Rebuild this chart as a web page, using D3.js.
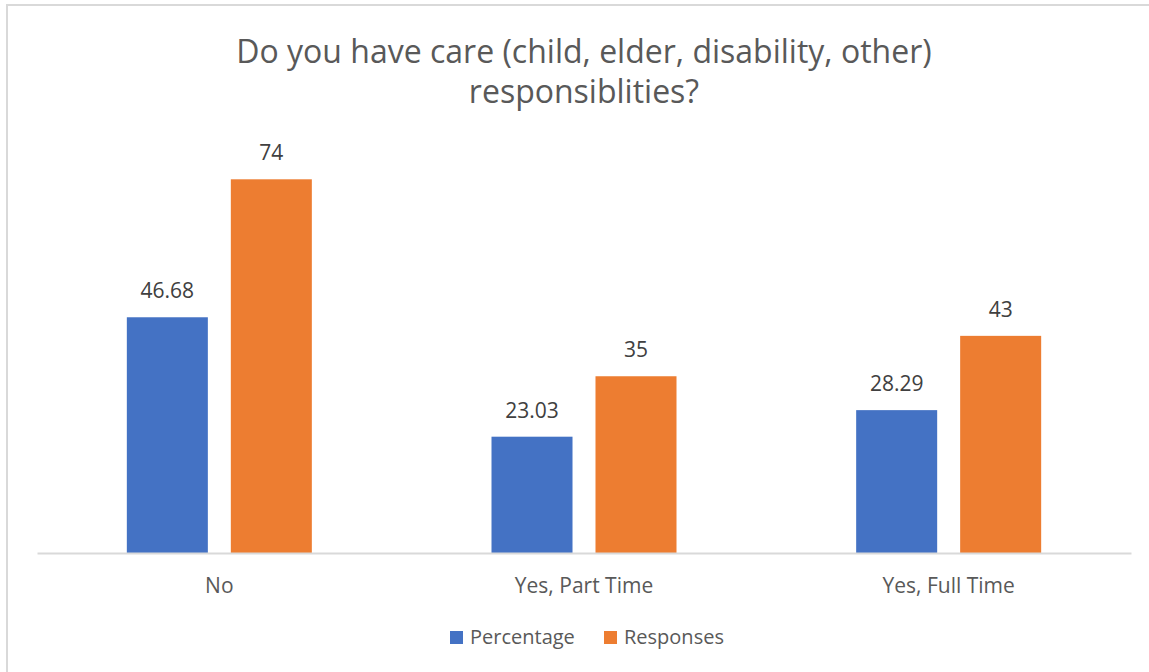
<!DOCTYPE html>
<html>
<head>
<meta charset="utf-8">
<script src="https://cdn.jsdelivr.net/npm/d3@7"></script>
<style>
  body { margin: 0; background: #fff; }
  text { font-family: "Open Sans", sans-serif; fill: #595959; }
</style>
</head>
<body>
<div id="chart"></div>
<script>
// values
var categories = ["No", "Yes, Part Time", "Yes, Full Time"];
var seriesNames = ["Percentage", "Responses"];
var percentage = [46.68, 23.03, 28.29];
var responses = [74, 35, 43];
var labels = [["46.68", "23.03", "28.29"], ["74", "35", "43"]];
var titleLines = ["Do you have care (child, elder, disability, other)", "responsiblities?"];
var colors = ["#4472C4", "#ED7D31"];

var width = 1149, height = 672;

var svg = d3.select("#chart").append("svg")
    .attr("width", width)
    .attr("height", height);

// chart border
svg.append("rect")
    .attr("x", 7).attr("y", 5)
    .attr("width", 1150).attr("height", 680)
    .attr("fill", "#fff")
    .attr("stroke", "#d9d9d9")
    .attr("stroke-width", 2);

var x0 = d3.scaleBand()
    .domain(categories)
    .range([37, 1131]);

var x1 = d3.scaleBand()
    .domain(seriesNames)
    .range([0, 185])
    .paddingInner(0.221);

var y = d3.scaleLinear()
    .domain([0, 80])
    .range([553, 149]);

var rows = categories.map(function (c, i) {
  return { cat: c, vals: [percentage[i], responses[i]] };
});

var groups = svg.selectAll(".grp")
    .data(rows)
    .enter().append("g")
    .attr("class", "grp")
    .attr("transform", function (d) {
      return "translate(" + (x0(d.cat) + x0.bandwidth() / 2 - 92.5) + ",0)";
    });

groups.selectAll("rect")
    .data(function (d, i) { return d.vals.map(function (v, k) { return { k: k, v: v, i: i }; }); })
    .enter().append("rect")
    .attr("x", function (d) { return x1(seriesNames[d.k]); })
    .attr("width", x1.bandwidth())
    .attr("y", function (d) { return y(d.v); })
    .attr("height", function (d) { return y(0) - y(d.v); })
    .attr("fill", function (d) { return colors[d.k]; });

groups.selectAll(".lbl")
    .data(function (d, i) { return d.vals.map(function (v, k) { return { k: k, v: v, i: i }; }); })
    .enter().append("text")
    .attr("class", "lbl")
    .attr("x", function (d) { return x1(seriesNames[d.k]) + x1.bandwidth() / 2; })
    .attr("y", function (d) { return y(d.v) - 19; })
    .attr("text-anchor", "middle")
    .style("font-size", "21px")
    .style("fill", "#404040")
    .text(function (d) { return labels[d.k][d.i]; });

// x axis
var xAxis = svg.append("g")
    .attr("transform", "translate(0," + y(0) + ")")
    .call(d3.axisBottom(x0).tickSize(0).tickPadding(25));
xAxis.select(".domain").attr("stroke", "#d9d9d9").attr("stroke-width", 2);
xAxis.selectAll("text").style("font-size", "21px").style("fill", "#595959");

// title
svg.append("text")
    .attr("text-anchor", "middle")
    .style("font-size", "32px")
    .selectAll("tspan")
    .data(titleLines)
    .enter().append("tspan")
    .attr("x", 584)
    .attr("y", function (d, i) { return 63 + i * 40; })
    .text(function (d) { return d; });

// legend
var legendX = [450, 604];
var legend = svg.selectAll(".leg")
    .data(seriesNames)
    .enter().append("g")
    .attr("class", "leg")
    .attr("transform", function (d, i) { return "translate(" + legendX[i] + ",631)"; });
legend.append("rect")
    .attr("width", 13).attr("height", 13)
    .attr("fill", function (d, i) { return colors[i]; });
legend.append("text")
    .attr("x", 20).attr("y", 13)
    .style("font-size", "20px")
    .text(function (d) { return d; });
</script>
</body>
</html>
